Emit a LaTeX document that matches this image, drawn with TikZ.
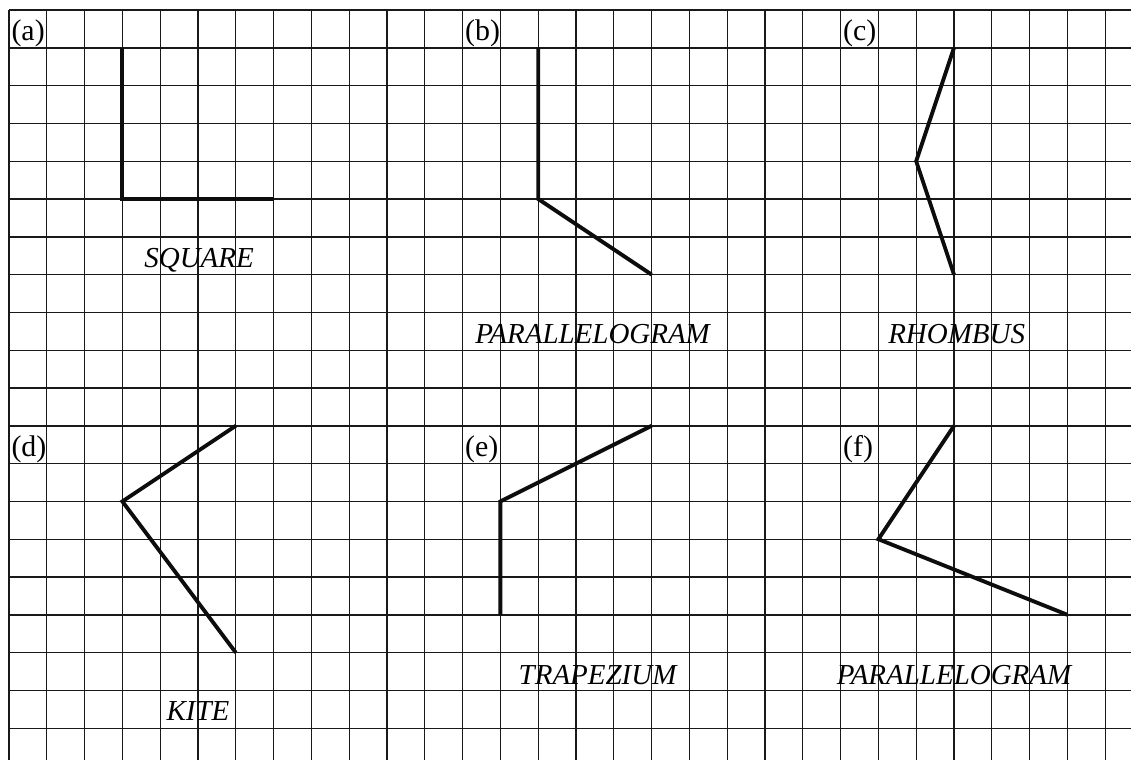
\documentclass[tikz,border=0pt]{standalone}
\usepackage{fontspec}
\setmainfont{Liberation Serif}
\usepackage{tikz}

\begin{document}
\begin{tikzpicture}[x=1cm,y=-1cm,
  grid line/.style={draw=black!90,line width=1.05pt},
  side/.style={draw=black!95,line width=2.9pt,line cap=butt,line join=miter},
  part label/.style={inner sep=0pt,anchor=base west,font=\fontsize{22.5}{26}\selectfont},
  name label/.style={inner sep=0pt,anchor=base,font=\fontsize{21.8}{26}\selectfont\itshape}]

  \useasboundingbox (-0.238,-0.265) rectangle (29.683,19.841);

  % squared paper
  \foreach \i in {0,...,29}
    \draw[grid line] (\i,0) -- (\i,19.841);
  \foreach \j in {0,...,19}
    \draw[grid line] (0,\j) -- (29.683,\j);

  % corners of the shapes
  \coordinate (a1) at (3,1);
  \coordinate (a2) at (3,5);
  \coordinate (a3) at (7,5);

  \coordinate (b1) at (14,1);
  \coordinate (b2) at (14,5);
  \coordinate (b3) at (17,7);

  \coordinate (c1) at (25,1);
  \coordinate (c2) at (24,4);
  \coordinate (c3) at (25,7);

  \coordinate (d1) at (6,11);
  \coordinate (d2) at (3,13);
  \coordinate (d3) at (6,17);

  \coordinate (e1) at (17,11);
  \coordinate (e2) at (13,13);
  \coordinate (e3) at (13,16);

  \coordinate (f1) at (25,11);
  \coordinate (f2) at (23,14);
  \coordinate (f3) at (28,16);

  \draw[side] (a1) -- (a2) -- (a3);
  \draw[side] (b1) -- (b2) -- (b3);
  \draw[side] (c1) -- (c2) -- (c3);
  \draw[side] (d1) -- (d2) -- (d3);
  \draw[side] (e1) -- (e2) -- (e3);
  \draw[side] (f1) -- (f2) -- (f3);

  % labels
  \node[part label] (pa) at (0.06,0.8)  {(a)};
  \node[part label] (pb) at (12.06,0.8) {(b)};
  \node[part label] (pc) at (22.06,0.8) {(c)};
  \node[part label] (pd) at (0.06,11.8) {(d)};
  \node[part label] (pe) at (12.06,11.8) {(e)};
  \node[part label] (pf) at (22.06,11.8) {(f)};

  \node[name label] (na) at (5.03,6.8)    {SQUARE};
  \node[name label] (nb) at (15.44,8.82) {PARALLELOGRAM};
  \node[name label] (nc) at (25.07,8.82) {RHOMBUS};
  \node[name label] (nd) at (5.0,18.8)  {KITE};
  \node[name label] (ne) at (15.57,17.84) {TRAPEZIUM};
  \node[name label] (nf) at (25.0,17.84) {PARALLELOGRAM};
\end{tikzpicture}
\end{document}
